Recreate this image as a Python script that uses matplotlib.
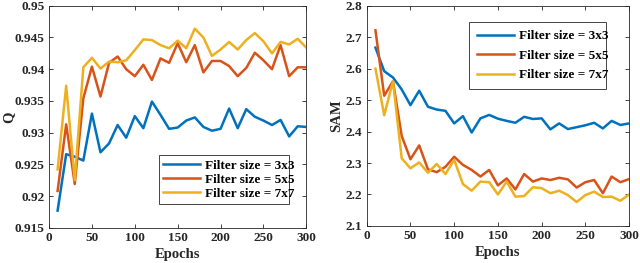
import numpy as np
import matplotlib
matplotlib.use("Agg")
import matplotlib.pyplot as plt
from matplotlib.ticker import FuncFormatter

epochs = np.arange(10, 301, 10)

# Q values (left panel)
q_3x3 = [0.9177, 0.9266, 0.9262, 0.9256, 0.9330, 0.9269, 0.9283, 0.9312, 0.9292, 0.9326,
         0.9307, 0.9349, 0.9328, 0.9306, 0.9308, 0.9319, 0.9324, 0.9309, 0.9303, 0.9306,
         0.9338, 0.9307, 0.9337, 0.9325, 0.9319, 0.9312, 0.9320, 0.9294, 0.9310, 0.9309]
q_5x5 = [0.9208, 0.9313, 0.9219, 0.9354, 0.9404, 0.9357, 0.9410, 0.9420, 0.9400, 0.9389,
         0.9407, 0.9383, 0.9417, 0.9410, 0.9441, 0.9411, 0.9438, 0.9395, 0.9413, 0.9413,
         0.9405, 0.9389, 0.9402, 0.9426, 0.9414, 0.9400, 0.9438, 0.9389, 0.9403, 0.9403]
q_7x7 = [0.9242, 0.9374, 0.9225, 0.9403, 0.9418, 0.9401, 0.9412, 0.9411, 0.9414, 0.9430,
         0.9447, 0.9446, 0.9438, 0.9433, 0.9445, 0.9433, 0.9464, 0.9450, 0.9421, 0.9431,
         0.9443, 0.9431, 0.9446, 0.9457, 0.9444, 0.9425, 0.9443, 0.9439, 0.9448, 0.9434]

# SAM values (right panel)
sam_3x3 = [2.667, 2.592, 2.572, 2.534, 2.484, 2.530, 2.479, 2.470, 2.466, 2.426,
           2.449, 2.397, 2.442, 2.453, 2.441, 2.434, 2.428, 2.447, 2.440, 2.442,
           2.407, 2.426, 2.408, 2.414, 2.420, 2.428, 2.410, 2.434, 2.421, 2.426]
sam_5x5 = [2.722, 2.514, 2.560, 2.386, 2.312, 2.356, 2.280, 2.271, 2.288, 2.320,
           2.294, 2.278, 2.257, 2.278, 2.229, 2.251, 2.216, 2.265, 2.241, 2.251,
           2.246, 2.253, 2.248, 2.222, 2.239, 2.246, 2.204, 2.257, 2.239, 2.249]
sam_7x7 = [2.600, 2.452, 2.560, 2.315, 2.283, 2.302, 2.269, 2.297, 2.265, 2.310,
           2.233, 2.212, 2.241, 2.239, 2.200, 2.241, 2.193, 2.195, 2.223, 2.220,
           2.204, 2.212, 2.198, 2.176, 2.198, 2.209, 2.192, 2.193, 2.180, 2.200]

labels = ["Filter size = 3x3", "Filter size = 5x5", "Filter size = 7x7"]
colors = ["#0072BD", "#D95319", "#EDB120"]

plt.rcParams["font.family"] = ["Liberation Serif", "DejaVu Serif"]
plt.rcParams["font.weight"] = "bold"

fig = plt.figure(figsize=(6.4, 2.63), dpi=100)
ax1 = fig.add_axes([0.0766, 0.134, 0.402, 0.844])
ax2 = fig.add_axes([0.573, 0.141, 0.41, 0.837])

fs = 9.5


def style(ax):
    ax.set_xlim(0, 300)
    ax.set_xticks([0, 50, 100, 150, 200, 250, 300])
    ax.tick_params(direction="in", top=True, right=True, length=3, width=0.6,
                   labelsize=fs, colors="#262626", pad=3)
    for lab in ax.get_xticklabels() + ax.get_yticklabels():
        lab.set_fontweight("bold")
        lab.set_color("#262626")
    for s in ax.spines.values():
        s.set_color("#262626")
        s.set_linewidth(0.6)
    ax.set_xlabel("Epochs", fontsize=fs + 1, fontweight="bold", color="#262626", labelpad=3)


for ys, c, lab in zip([q_3x3, q_5x5, q_7x7], colors, labels):
    ax1.plot(epochs, ys, color=c, lw=1.8, label=lab)
ax1.set_ylim(0.915, 0.95)
ax1.set_yticks(np.arange(0.915, 0.9501, 0.005))
ax1.yaxis.set_major_formatter(FuncFormatter(lambda v, p: "%g" % round(v, 3)))
ax1.set_ylabel("Q", fontsize=fs + 1, fontweight="bold", color="#262626")
ax1.yaxis.set_label_coords(-0.13, 0.5)
style(ax1)
leg1 = ax1.legend(loc="lower left", bbox_to_anchor=(0.428, 0.107, 0.506, 0.207), mode="expand",
                  fontsize=fs, frameon=True, fancybox=False, edgecolor="#262626",
                  framealpha=1, handlelength=2.8, borderaxespad=0, borderpad=0.3,
                  labelspacing=0.15, handletextpad=0.4)
leg1.get_frame().set_linewidth(0.6)

for ys, c, lab in zip([sam_3x3, sam_5x5, sam_7x7], colors, labels):
    ax2.plot(epochs, ys, color=c, lw=1.8, label=lab)
ax2.set_ylim(2.1, 2.8)
ax2.set_yticks(np.arange(2.1, 2.801, 0.1))
ax2.yaxis.set_major_formatter(FuncFormatter(lambda v, p: "%g" % round(v, 2)))
ax2.set_ylabel("SAM", fontsize=fs + 1, fontweight="bold", color="#262626", labelpad=2)
style(ax2)
leg2 = ax2.legend(loc="upper left", bbox_to_anchor=(0.39, 0.649, 0.521, 0.277), mode="expand",
                  fontsize=fs, frameon=True, fancybox=False, edgecolor="#262626",
                  framealpha=1, handlelength=2.8, borderaxespad=0, borderpad=0.6,
                  labelspacing=0.55, handletextpad=0.4)
leg2.get_frame().set_linewidth(0.6)

fig.savefig("out.png", dpi=100)
